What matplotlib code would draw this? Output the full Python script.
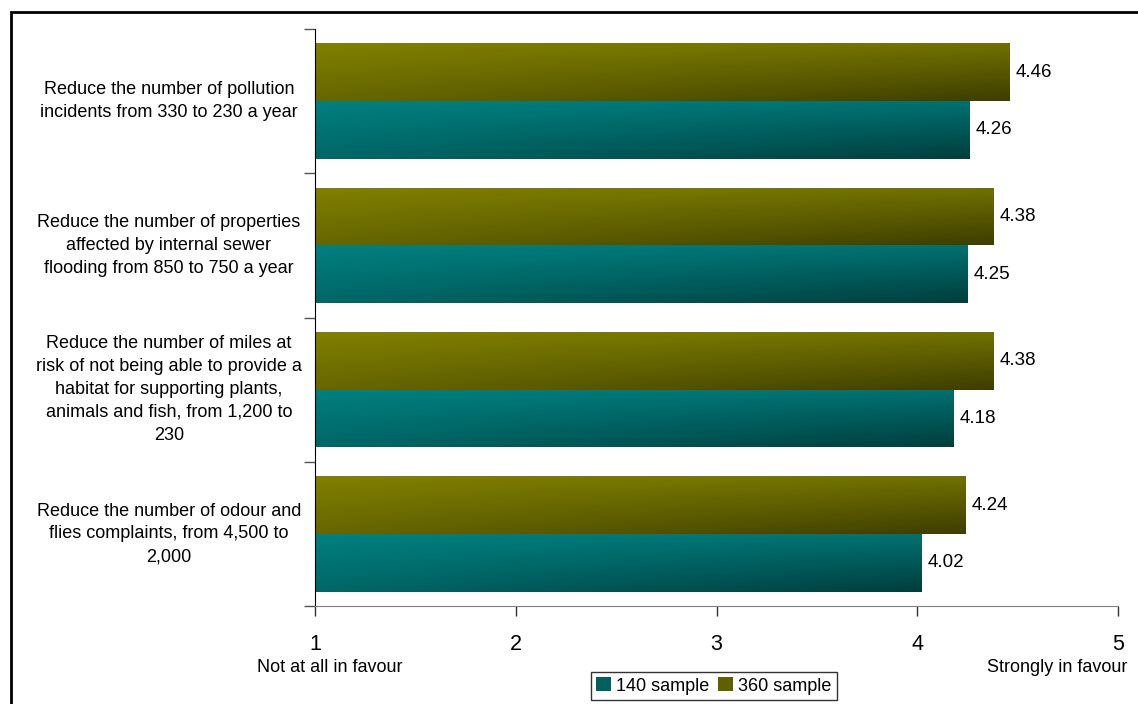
import numpy as np
import matplotlib
matplotlib.use('Agg')
import matplotlib.pyplot as plt
from matplotlib.patches import Rectangle, Patch

#*****Data*****#
categories = ['Reduce the number of pollution\nincidents from 330 to 230 a year',
              'Reduce the number of properties\naffected by internal sewer\nflooding from 850 to 750 a year',
              'Reduce the number of miles at\nrisk of not being able to provide a\nhabitat for supporting plants,\nanimals and fish, from 1,200 to\n230',
              'Reduce the number of odour and\nflies complaints, from 4,500 to\n2,000']
sample_140 = [4.26, 4.25, 4.18, 4.02]
sample_360 = [4.46, 4.38, 4.38, 4.24]
xticks = [1, 2, 3, 4, 5]

teal = np.array([0, 128, 128]) / 255.
olive = np.array([128, 128, 0]) / 255.

plt.rcParams['font.family'] = ['Liberation Sans', 'DejaVu Sans']

fig = plt.figure(figsize=(11.38, 7.04), dpi=100)
ax = fig.add_axes([315/1138, 1 - 606/704, (1118 - 315)/1138, (606 - 29)/704])

y = np.arange(len(categories))
bars_360 = ax.barh(y - 0.2, sample_360, height=0.4, left=0, color=olive)
bars_140 = ax.barh(y + 0.2, sample_140, height=0.4, left=0, color=teal)

# gradient fill, darker toward bottom-right
def shade(bars, base):
    yy, xx = np.mgrid[0:1:60j, 0:1:200j]
    f = 1 - 0.2*yy - 0.12*xx - 0.2*xx*yy
    img = f[..., None] * base[None, None, :]
    for b in bars:
        x0, y0 = 1, b.get_y()
        x1, y1 = b.get_width(), b.get_y() + b.get_height()
        im = ax.imshow(img, extent=[x0, x1, y1, y0], aspect='auto',
                       interpolation='bilinear', zorder=2)
        im.set_clip_path(b)
        b.set_facecolor('none')

shade(bars_360, olive)
shade(bars_140, teal)
ax.set_xlim(1, 5)
ax.set_ylim(3.5, -0.5)

# value labels
for yi, v in zip(y - 0.2, sample_360):
    ax.text(v + 0.03, yi, '%.2f' % v, va='center', ha='left', fontsize=13.5)
for yi, v in zip(y + 0.2, sample_140):
    ax.text(v + 0.03, yi, '%.2f' % v, va='center', ha='left', fontsize=13.5)

# category labels
for yi, lab in zip(y, categories):
    ax.text(-0.182, yi, lab, transform=ax.get_yaxis_transform(), ha='center',
            va='center', fontsize=13, linespacing=1.45)

ax.set_yticks([-0.5, 0.5, 1.5, 2.5, 3.5])
ax.set_yticklabels([])
ax.tick_params(axis='y', length=8, width=1, color='#555555')
ax.set_xticks(xticks)
ax.set_xticklabels([str(t) for t in xticks], fontsize=15.5)
ax.tick_params(axis='x', length=7, width=1, color='#333333', pad=13)

for s in ['top', 'right']:
    ax.spines[s].set_visible(False)
ax.spines['left'].set_color('black')
ax.spines['bottom'].set_color('#808080')

fig.text(330/1138, 1 - 668/704, 'Not at all in favour', ha='center', va='center', fontsize=13)
fig.text(1127/1138, 1 - 668/704, 'Strongly in favour', ha='right', va='center', fontsize=13)

handles = [Patch(facecolor=teal*0.75, edgecolor='none', label='140 sample'),
           Patch(facecolor=olive*0.75, edgecolor='none', label='360 sample')]
leg = fig.legend(handles=handles, loc='center', bbox_to_anchor=(714/1138, 1 - 686/704),
                 ncol=2, fontsize=13, frameon=True, fancybox=False,
                 handlelength=0.8, handleheight=0.8, handletextpad=0.3,
                 columnspacing=0.5, borderpad=0.3, borderaxespad=0)
leg.get_frame().set_edgecolor('black')
leg.get_frame().set_linewidth(1)

# outer border
fig.patches.append(Rectangle((11/1138, -0.05), 1.1, 1 - 12/704 + 0.05,
                             transform=fig.transFigure, fill=False,
                             edgecolor='black', linewidth=2))

fig.savefig('out.png', dpi=100)
